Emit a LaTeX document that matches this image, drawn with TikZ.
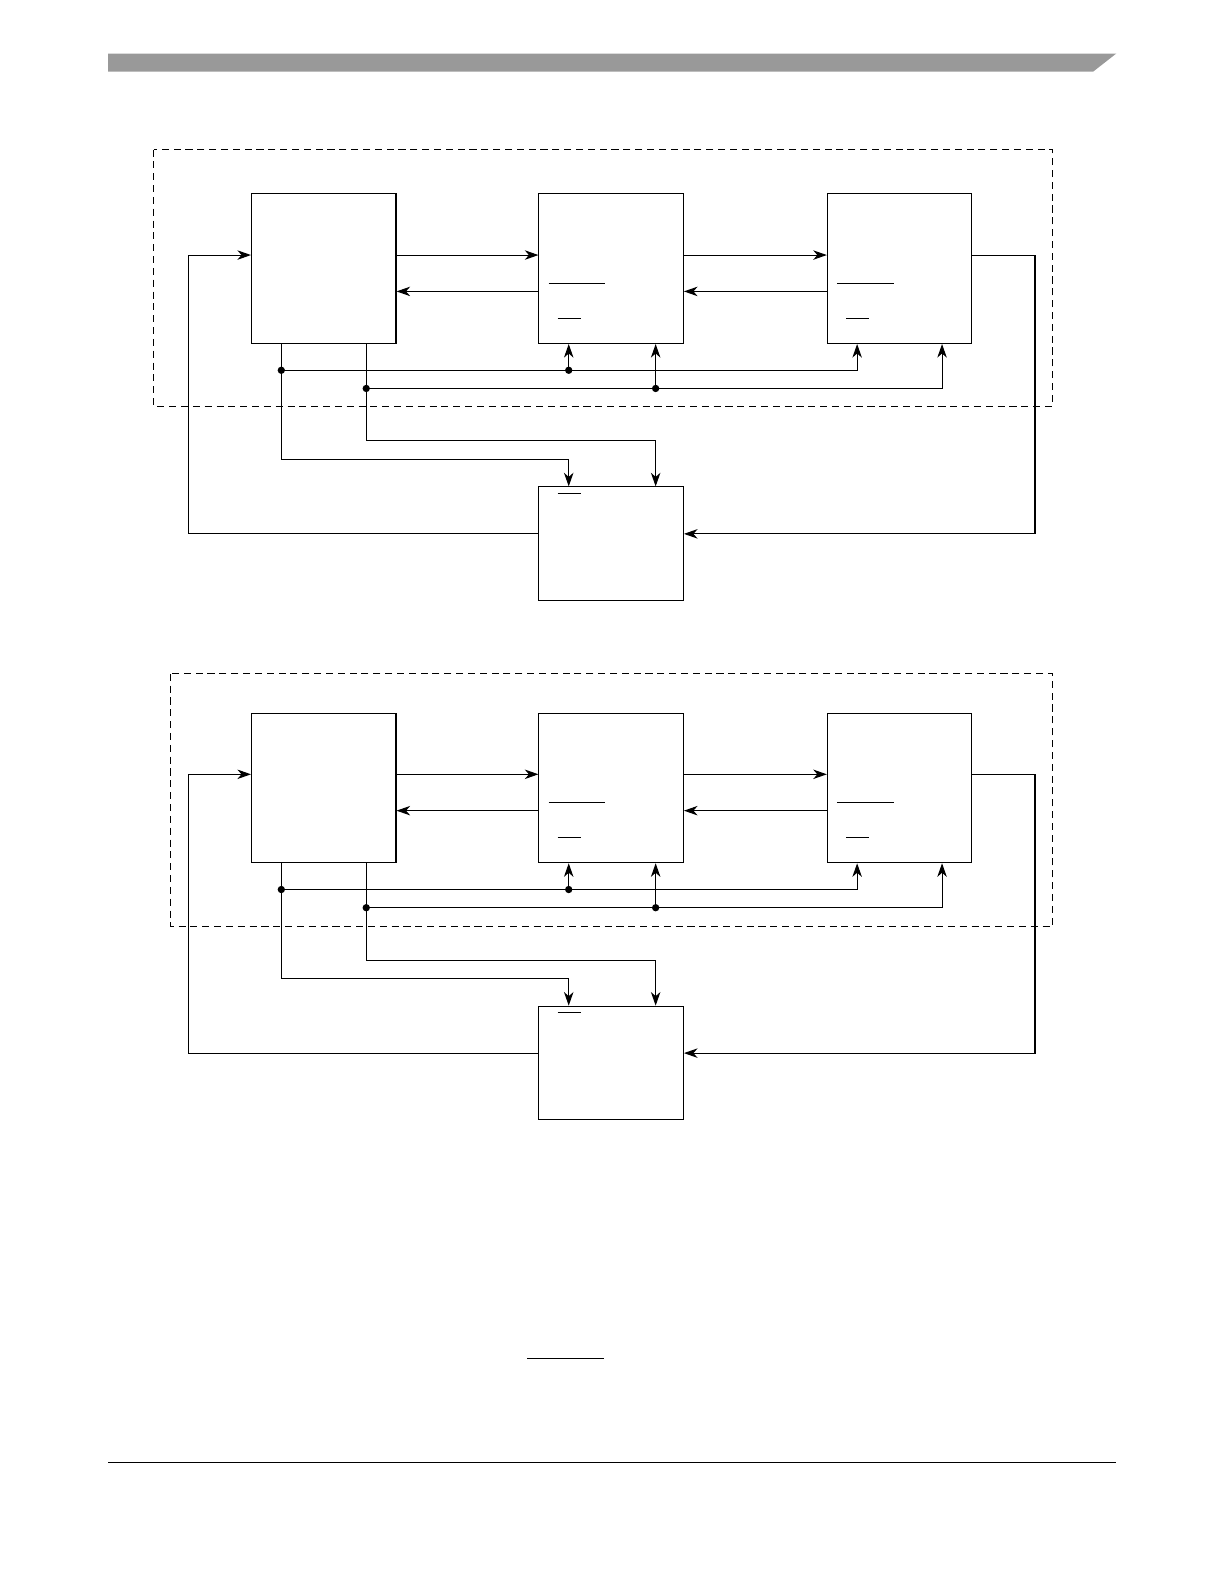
\documentclass[tikz,border=0pt]{standalone}
\usetikzlibrary{arrows.meta,calc}
\definecolor{bargray}{RGB}{153,153,153}

\begin{document}
\begin{tikzpicture}[x=0.03cm, y=-0.03cm, line width=0.9pt,
  blk/.style={draw, line width=0.9pt, minimum width=4.29cm, minimum height=4.44cm, inner sep=0pt},
  blkD/.style={blk, minimum height=3.36cm},
  sig/.style={-{Stealth[length=11.5pt,width=8pt,inset=3.5pt]}},
  frame/.style={line width=0.9pt, dash pattern=on 6pt off 4pt},
  bar/.style={line width=0.9pt}]
\useasboundingbox (0,0) rectangle (1212,1568);

% page header and footer
\fill[bargray] (107,53) -- (1105,53) -- (1082,71) -- (107,71) -- cycle;
\draw[line width=1.1pt] (107,1448) -- (1105,1448);
\draw[bar] (522,1345) -- (598,1345);

% the two block diagrams
\foreach \p/\dy/\fl/\ft/\fb in {u/0/152/148/402, l/514/169/153/403} {
  \draw[frame] (\fl,\ft+\dy) rectangle (1042,\fb+\dy);

  \node[blk] (A\p) at (320.5,266+\dy) {};
  \node[blk] (B\p) at (605,266+\dy) {};
  \node[blk] (C\p) at (890.5,266+\dy) {};
  \node[blkD] (D\p) at (605,538+\dy) {};

  % overbars inside the blocks
  \draw[bar] ($(B\p.north west)+(10,89)$) -- ($(B\p.north west)+(66,89)$);
  \draw[bar] ($(B\p.north west)+(19,124)$) -- ($(B\p.north west)+(42,124)$);
  \draw[bar] ($(C\p.north west)+(10,89)$) -- ($(C\p.north west)+(66,89)$);
  \draw[bar] ($(C\p.north west)+(19,124)$) -- ($(C\p.north west)+(42,124)$);
  \draw[bar] ($(D\p.north west)+(19,7)$) -- ($(D\p.north west)+(42,7)$);

  % chain A - B - C
  \draw[sig] ($(A\p.north east)+(0,61)$) -- ($(B\p.north west)+(0,61)$);
  \draw[sig] ($(B\p.north west)+(0,97)$) -- ($(A\p.north east)+(0,97)$);
  \draw[sig] ($(B\p.north east)+(0,61)$) -- ($(C\p.north west)+(0,61)$);
  \draw[sig] ($(C\p.north west)+(0,97)$) -- ($(B\p.north east)+(0,97)$);

  % feedback loops through D
  \draw[sig] ($(D\p.north west)+(0,47)$) -| ($(A\p.north west)+(-62,61)$) -- ($(A\p.north west)+(0,61)$);
  \draw[sig] ($(C\p.north east)+(0,61)$) -- ++(62,0) |- ($(D\p.north east)+(0,47)$);

  % buses from A
  \coordinate (j1\p) at ($(A\p.south west)+(30,26)$);
  \coordinate (j2\p) at ($(A\p.south east)+(-30,44)$);
  \coordinate (k1\p) at ($(B\p.south west)+(30,26)$);
  \coordinate (k2\p) at ($(B\p.south east)+(-28,44)$);
  \draw[sig] ($(A\p.south west)+(30,0)$) |- ($(D\p.north west)+(30,-27)$) -- ($(D\p.north west)+(30,0)$);
  \draw[sig] ($(A\p.south east)+(-30,0)$) |- ($(D\p.north east)+(-28,-45)$) -- ($(D\p.north east)+(-28,0)$);
  \draw[sig] (j1\p) -| ($(C\p.south west)+(30,0)$);
  \draw[sig] (j2\p) -| ($(C\p.south east)+(-30,0)$);
  \draw[sig] (k1\p) -- ($(B\p.south west)+(30,0)$);
  \draw[sig] (k2\p) -- ($(B\p.south east)+(-28,0)$);
  \foreach \j in {j1\p, j2\p, k1\p, k2\p}
    \fill (\j) circle[radius=3.1pt];
}
\end{tikzpicture}
\end{document}
